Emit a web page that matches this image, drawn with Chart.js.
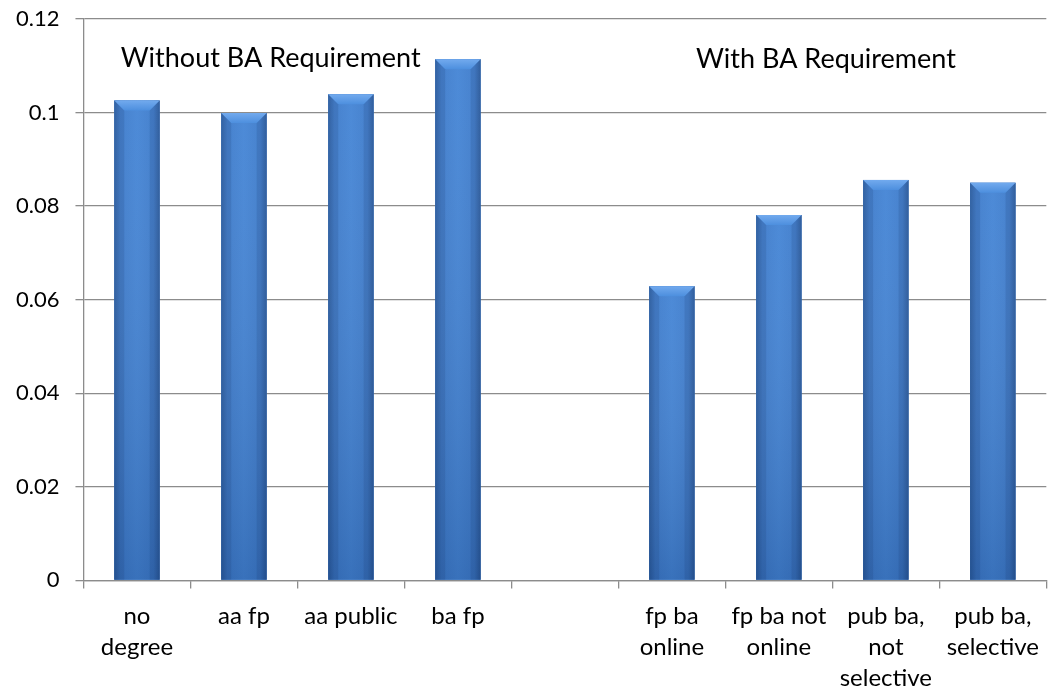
<!DOCTYPE html>
<html>
<head>
<meta charset="utf-8">
<script src="https://cdn.jsdelivr.net/npm/chart.js@4"></script>
<style>
  html, body { margin: 0; padding: 0; background: #fff; }
  #wrap { width: 1051px; height: 692px; }
</style>
</head>
<body>
<div id="wrap"><canvas id="baChart"></canvas></div>
<script>
// categories (multi-line labels), empty slot separates the two groups
const categories = [
    ['no', 'degree'],
    ['aa fp'],
    ['aa public'],
    ['ba fp'],
    [''],
    ['fp ba', 'online'],
    ['fp ba not', 'online'],
    ['pub ba,', 'not', 'selective'],
    ['pub ba,', 'selective']
];
const values = [0.1026, 0.0999, 0.1039, 0.1114, null, 0.0629, 0.0781, 0.0856, 0.0850];
const yTicks = [0, 0.02, 0.04, 0.06, 0.08, 0.1, 0.12];
const groupNotes = [
    { text: 'Without BA Requirement', at: 1.25, y: 0.1115 },
    { text: 'With BA Requirement', at: 6.44, y: 0.1113 }
];

const FONT = 'Lato, Carlito, Calibri, sans-serif';

// Excel-style bevel on each bar, drawn over the elements Chart.js laid out
const bevelPlugin = {
    id: 'bevel',
    afterDatasetsDraw(chart) {
        const ctx = chart.ctx;
        chart.getDatasetMeta(0).data.forEach(bar => {
            if (bar.skip || !isFinite(bar.y)) return;
            const w = bar.width;
            const left = bar.x - w / 2;
            const top = bar.y;
            const h = bar.base - bar.y;
            ctx.save();
            // body: darker edges, lighter middle
            let g = ctx.createLinearGradient(left, 0, left + w, 0);
            g.addColorStop(0, '#2d62a8');
            g.addColorStop(0.14, '#3d7bcb');
            g.addColorStop(0.5, '#4384d5');
            g.addColorStop(0.86, '#3d7bcb');
            g.addColorStop(1, '#2c5ea2');
            ctx.fillStyle = g;
            ctx.fillRect(left, top, w, h);
            // darken toward the bottom
            let v = ctx.createLinearGradient(0, top, 0, bar.base);
            v.addColorStop(0, 'rgba(255,255,255,0.05)');
            v.addColorStop(1, 'rgba(10,30,70,0.18)');
            ctx.fillStyle = v;
            ctx.fillRect(left, top, w, h);
            // top bevel
            const b = Math.min(10, h / 2);
            ctx.beginPath();
            ctx.moveTo(left, top);
            ctx.lineTo(left + w, top);
            ctx.lineTo(left + w - b, top + b);
            ctx.lineTo(left + b, top + b);
            ctx.closePath();
            let t = ctx.createLinearGradient(0, top, 0, top + b);
            t.addColorStop(0, '#72aaee');
            t.addColorStop(1, '#4d8fde');
            ctx.fillStyle = t;
            ctx.fill();
            // side bevels
            ctx.fillStyle = 'rgba(20,50,100,0.14)';
            ctx.beginPath();
            ctx.moveTo(left, top);
            ctx.lineTo(left + b, top + b);
            ctx.lineTo(left + b, bar.base);
            ctx.lineTo(left, bar.base);
            ctx.closePath();
            ctx.fill();
            ctx.beginPath();
            ctx.moveTo(left + w, top);
            ctx.lineTo(left + w - b, top + b);
            ctx.lineTo(left + w - b, bar.base);
            ctx.lineTo(left + w, bar.base);
            ctx.closePath();
            ctx.fill();
            ctx.restore();
        });
    }
};

// group captions placed in data space
const notesPlugin = {
    id: 'notes',
    afterDatasetsDraw(chart) {
        const ctx = chart.ctx;
        const xs = chart.scales.x, ys = chart.scales.y;
        ctx.save();
        ctx.font = '27px ' + FONT;
        ctx.fillStyle = '#000';
        ctx.textAlign = 'center';
        ctx.textBaseline = 'middle';
        groupNotes.forEach(n => {
            ctx.fillText(n.text, xs.getPixelForValue(n.at), ys.getPixelForValue(n.y));
        });
        ctx.restore();
    }
};

const ctxBa = document.getElementById('baChart').getContext('2d');
const baChart = new Chart(ctxBa, {
    type: 'bar',
    data: {
        labels: categories,
        datasets: [{
            data: values,
            backgroundColor: '#3c7ac8',
            borderWidth: 0,
            categoryPercentage: 1.0,
            barPercentage: 0.425
        }]
    },
    options: {
        responsive: true,
        maintainAspectRatio: false,
        animation: false,
        layout: {
            padding: { left: 0, right: 0, top: 0, bottom: -14 }
        },
        plugins: {
            legend: { display: false },
            tooltip: { enabled: false }
        },
        scales: {
            x: {
                grid: {
                    offset: true,
                    drawOnChartArea: false,
                    tickLength: 8,
                    color: '#8c8c8c',
                    lineWidth: 1.3
                },
                border: { color: '#8c8c8c', width: 1.3 },
                ticks: {
                    color: '#000',
                    font: { family: FONT, size: 24, lineHeight: 1.3 },
                    padding: 12,
                    maxRotation: 0,
                    autoSkip: false
                }
            },
            y: {
                min: 0,
                max: 0.12,
                afterBuildTicks(axis) {
                    axis.ticks = yTicks.map(v => ({ value: v }));
                },
                // tick padding is meant horizontally only; keep the top tight
                afterFit(axis) {
                    axis.paddingTop = 19;
                    axis.paddingBottom = 12;
                },
                grid: {
                    color: '#8c8c8c',
                    lineWidth: 1.3,
                    tickLength: 8
                },
                border: { color: '#8c8c8c', width: 1.3 },
                ticks: {
                    color: '#000',
                    font: { family: FONT, size: 22 },
                    padding: 16,
                    callback: v => String(+v.toFixed(2))
                }
            }
        }
    },
    plugins: [bevelPlugin, notesPlugin]
});
</script>
</body>
</html>
